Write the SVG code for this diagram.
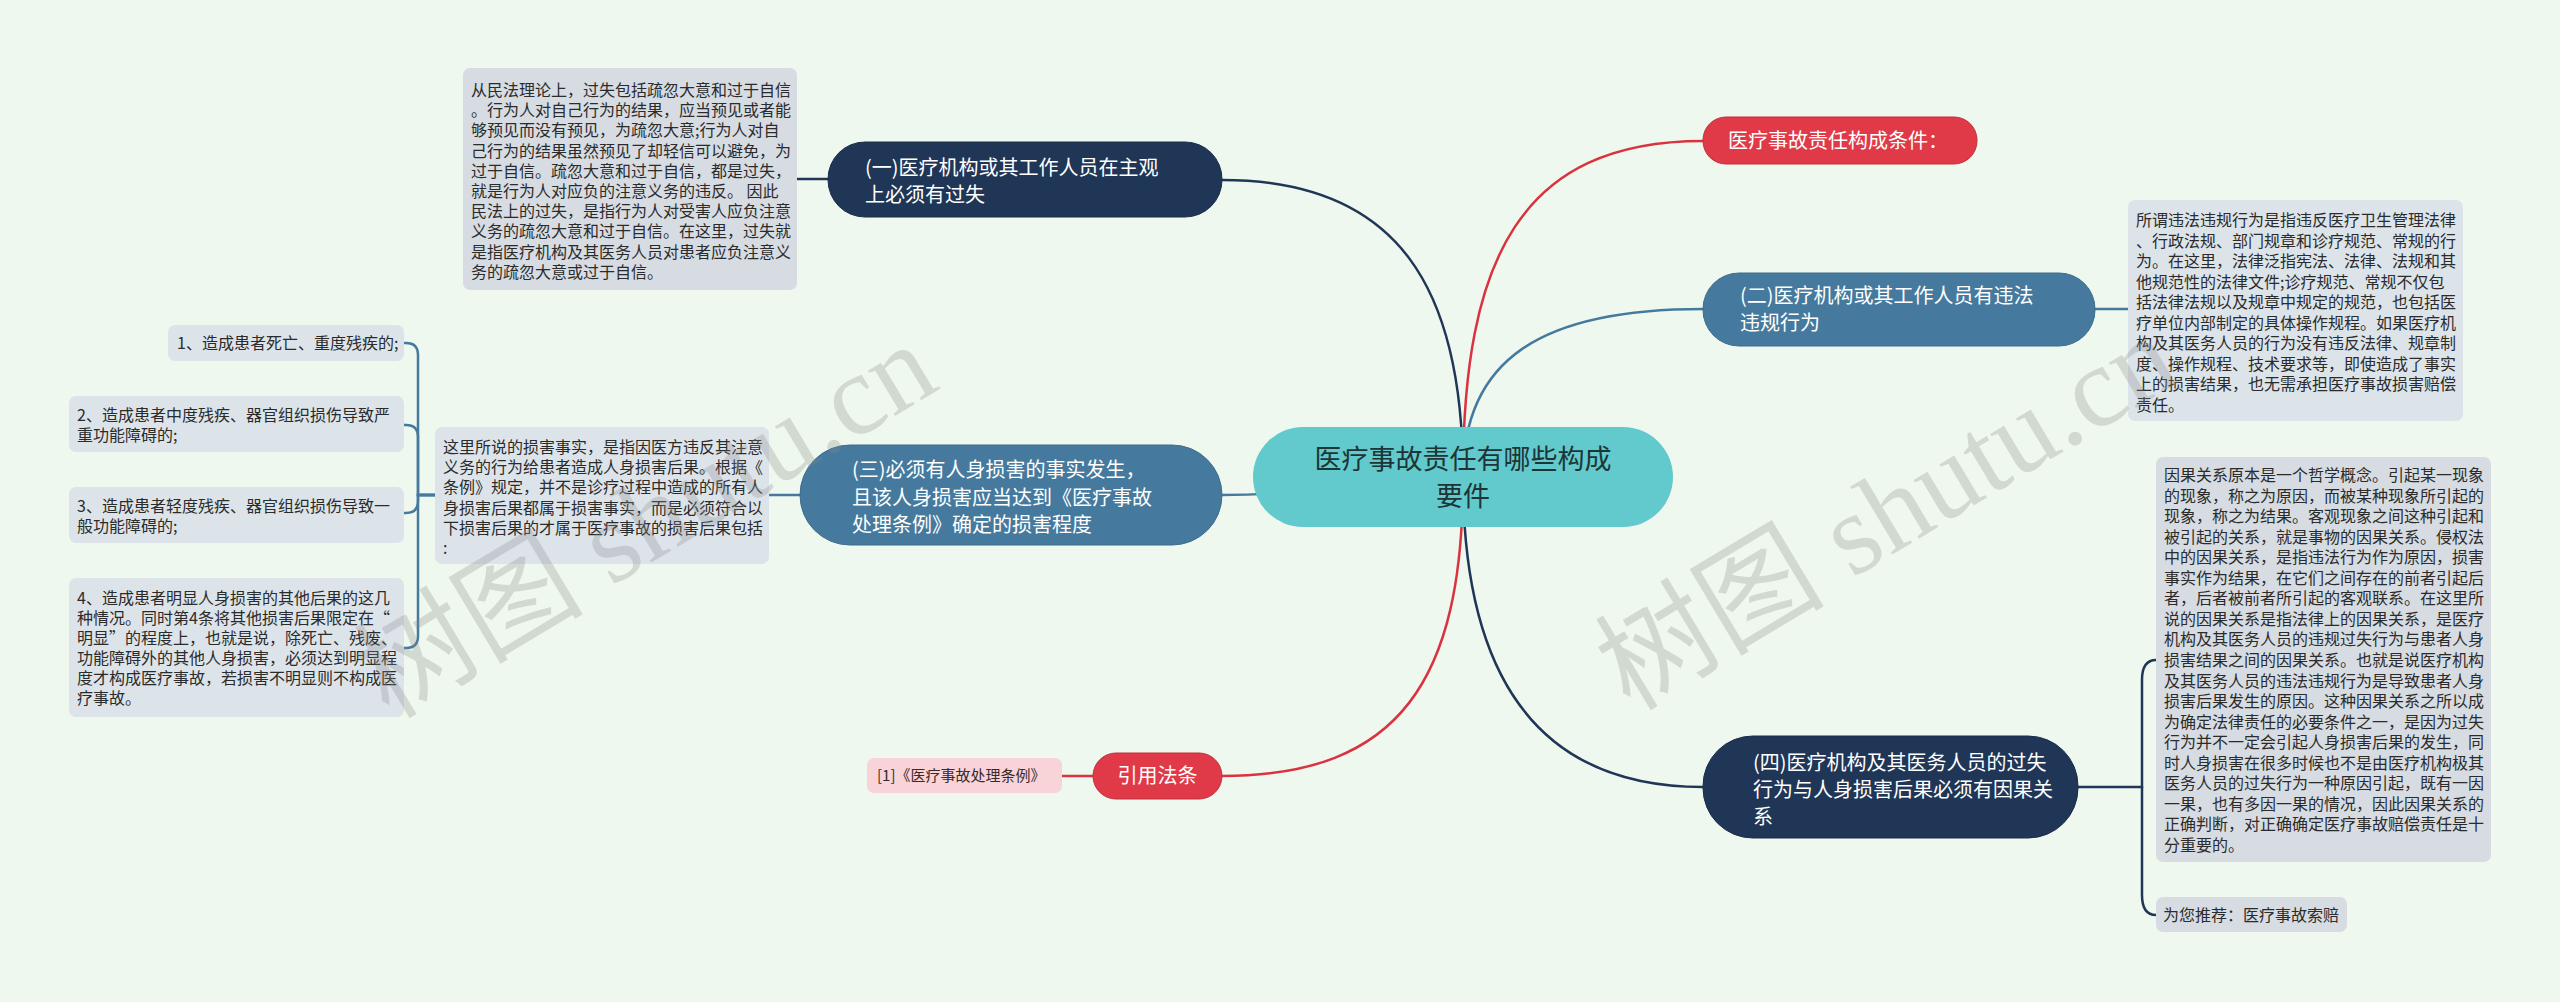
<svg xmlns="http://www.w3.org/2000/svg" width="2560" height="1002" viewBox="0 0 2560 1002">
<style>
.bg{fill:#EFF8EE}
.t{font-family:"Noto Sans CJK SC","Noto Sans",sans-serif}
.box{fill:#D6DCE2}
.boxb{fill:#DCE4EA}
.bt{font-size:16px;fill:#2b2b2b}
.nt{font-size:20px;fill:#ffffff}
.navy{fill:#1F3657;stroke:#1a2e4a;stroke-width:1}
.steel{fill:#457A9E;stroke:#3d6d8d;stroke-width:1}
.red{fill:#E03A48;stroke:#c22e3b;stroke-width:1}
.ln{fill:none;stroke-width:2.5;stroke-linecap:round}
.sn{stroke:#1F3657}
.ss{stroke:#457A9E}
.sr{stroke:#D9333F}
.wm{font-family:"Liberation Serif","Noto Sans CJK SC",serif;font-size:115px;fill:#8a8a8a;fill-opacity:0.28}
</style>
<rect class="bg" x="0" y="0" width="2560" height="1002"/>
<g id="connectors">
<path class="ln sn" d="M1463 477 C1463 290,1400 180,1222 180"/>
<path class="ln sr" d="M1463 477 C1463 260,1520 141,1703 141"/>
<path class="ln ss" d="M1463 477 C1463 360,1540 309,1703 309"/>
<path class="ln ss" d="M1463 477 C1350 477,1330 495,1222 495"/>
<path class="ln sn" d="M1463 477 C1463 680,1540 787,1703 787"/>
<path class="ln sr" d="M1463 477 C1463 680,1400 776,1222 776"/>
<path class="ln sn" stroke-width="2" d="M797 179 H828"/>
<path class="ln ss" stroke-width="2" d="M2095 309 H2128"/>
<path class="ln ss" stroke-width="2" d="M769 495 H800"/>
<path class="ln sr" stroke-width="2" d="M1062 776 H1093"/>
<path class="ln ss" stroke-width="2" d="M435 495 H418 V355 Q418 343 406 343 H404"/>
<path class="ln ss" stroke-width="2" d="M435 495 H418 V437 Q418 425 406 425 H404"/>
<path class="ln ss" stroke-width="2" d="M435 495 H418 V501 Q418 513 406 513 H404"/>
<path class="ln ss" stroke-width="2" d="M435 495 H418 V636 Q418 648 406 648 H404"/>
<path class="ln sn" stroke-width="2" d="M2078 787 H2142 V680 Q2142 660 2156 660"/>
<path class="ln sn" stroke-width="2" d="M2142 787 V895 Q2142 915 2156 915"/>
</g>
<g id="root">
<rect x="1253" y="427" width="420" height="100" rx="50" fill="#62C9CD"/>
<text class="t" font-size="27" fill="#1d3535" text-anchor="middle"><tspan x="1463" y="469">医疗事故责任有哪些构成</tspan><tspan x="1463" y="506">要件</tspan></text>
</g>
<g id="n1">
<rect class="navy" x="828" y="142" width="394" height="75" rx="37"/>
<text class="t nt"><tspan x="865" y="175">(一)医疗机构或其工作人员在主观</tspan><tspan x="865" y="202">上必须有过失</tspan></text>
</g>
<g id="n1box">
<rect class="box" x="463" y="68" width="334" height="222" rx="7"/>
<text class="t bt"><tspan x="471" y="96">从民法理论上，过失包括疏忽大意和过于自信</tspan><tspan x="471" y="116.2">。行为人对自己行为的结果，应当预见或者能</tspan><tspan x="471" y="136.4">够预见而没有预见，为疏忽大意;行为人对自</tspan><tspan x="471" y="156.6">己行为的结果虽然预见了却轻信可以避免，为</tspan><tspan x="471" y="176.8">过于自信。疏忽大意和过于自信，都是过失，</tspan><tspan x="471" y="197">就是行为人对应负的注意义务的违反。 因此</tspan><tspan x="471" y="217.2">民法上的过失，是指行为人对受害人应负注意</tspan><tspan x="471" y="237.4">义务的疏忽大意和过于自信。在这里，过失就</tspan><tspan x="471" y="257.6">是指医疗机构及其医务人员对患者应负注意义</tspan><tspan x="471" y="277.8">务的疏忽大意或过于自信。</tspan></text>
</g>
<g id="cond">
<rect class="red" x="1703" y="117" width="274" height="47" rx="23"/>
<text class="t nt" x="1728" y="148">医疗事故责任构成条件：</text>
</g>
<g id="n2">
<rect class="steel" x="1703" y="273" width="392" height="73" rx="36"/>
<text class="t nt"><tspan x="1740" y="303">(二)医疗机构或其工作人员有违法</tspan><tspan x="1740" y="330">违规行为</tspan></text>
</g>
<g id="n2box">
<rect class="boxb" x="2128" y="200" width="335" height="221" rx="7"/>
<text class="t bt"><tspan x="2136" y="226">所谓违法违规行为是指违反医疗卫生管理法律</tspan><tspan x="2136" y="246.5">、行政法规、部门规章和诊疗规范、常规的行</tspan><tspan x="2136" y="267">为。在这里，法律泛指宪法、法律、法规和其</tspan><tspan x="2136" y="287.5">他规范性的法律文件;诊疗规范、常规不仅包</tspan><tspan x="2136" y="308">括法律法规以及规章中规定的规范，也包括医</tspan><tspan x="2136" y="328.5">疗单位内部制定的具体操作规程。如果医疗机</tspan><tspan x="2136" y="349">构及其医务人员的行为没有违反法律、规章制</tspan><tspan x="2136" y="369.5">度、操作规程、技术要求等，即使造成了事实</tspan><tspan x="2136" y="390">上的损害结果，也无需承担医疗事故损害赔偿</tspan><tspan x="2136" y="410.5">责任。</tspan></text>
</g>
<g id="n3">
<rect class="steel" x="800" y="445" width="422" height="100" rx="50"/>
<text class="t nt"><tspan x="852" y="477">(三)必须有人身损害的事实发生，</tspan><tspan x="852" y="505">且该人身损害应当达到《医疗事故</tspan><tspan x="852" y="532">处理条例》确定的损害程度</tspan></text>
</g>
<g id="n3box">
<rect class="boxb" x="435" y="427" width="334" height="137" rx="7"/>
<text class="t bt"><tspan x="443" y="453">这里所说的损害事实，是指因医方违反其注意</tspan><tspan x="443" y="473.2">义务的行为给患者造成人身损害后果。根据《</tspan><tspan x="443" y="493.4">条例》规定，并不是诊疗过程中造成的所有人</tspan><tspan x="443" y="513.6">身损害后果都属于损害事实，而是必须符合以</tspan><tspan x="443" y="533.8">下损害后果的才属于医疗事故的损害后果包括</tspan><tspan x="443" y="554">:</tspan></text>
</g>
<g id="item1">
<rect class="boxb" x="168" y="325" width="236" height="36" rx="7"/>
<text class="t bt" x="177" y="349">1、造成患者死亡、重度残疾的;</text>
</g>
<g id="item2">
<rect class="boxb" x="69" y="396" width="335" height="56" rx="7"/>
<text class="t bt"><tspan x="77" y="421">2、造成患者中度残疾、器官组织损伤导致严</tspan><tspan x="77" y="441">重功能障碍的;</tspan></text>
</g>
<g id="item3">
<rect class="boxb" x="69" y="487" width="335" height="56" rx="7"/>
<text class="t bt"><tspan x="77" y="512">3、造成患者轻度残疾、器官组织损伤导致一</tspan><tspan x="77" y="532">般功能障碍的;</tspan></text>
</g>
<g id="item4">
<rect class="boxb" x="69" y="578" width="335" height="139" rx="7"/>
<text class="t bt"><tspan x="77" y="604">4、造成患者明显人身损害的其他后果的这几</tspan><tspan x="77" y="624">种情况。同时第4条将其他损害后果限定在“</tspan><tspan x="77" y="644">明显”的程度上，也就是说，除死亡、残废、</tspan><tspan x="77" y="664">功能障碍外的其他人身损害，必须达到明显程</tspan><tspan x="77" y="684">度才构成医疗事故，若损害不明显则不构成医</tspan><tspan x="77" y="704">疗事故。</tspan></text>
</g>
<g id="n4">
<rect class="navy" x="1703" y="736" width="375" height="102" rx="50"/>
<text class="t nt"><tspan x="1753" y="770">(四)医疗机构及其医务人员的过失</tspan><tspan x="1753" y="797">行为与人身损害后果必须有因果关</tspan><tspan x="1753" y="824">系</tspan></text>
</g>
<g id="n4box">
<rect class="box" x="2156" y="457" width="335" height="405" rx="7"/>
<text class="t bt"><tspan x="2164" y="481">因果关系原本是一个哲学概念。引起某一现象</tspan><tspan x="2164" y="501.55">的现象，称之为原因，而被某种现象所引起的</tspan><tspan x="2164" y="522.1">现象，称之为结果。客观现象之间这种引起和</tspan><tspan x="2164" y="542.65">被引起的关系，就是事物的因果关系。侵权法</tspan><tspan x="2164" y="563.2">中的因果关系，是指违法行为作为原因，损害</tspan><tspan x="2164" y="583.75">事实作为结果，在它们之间存在的前者引起后</tspan><tspan x="2164" y="604.3">者，后者被前者所引起的客观联系。在这里所</tspan><tspan x="2164" y="624.85">说的因果关系是指法律上的因果关系，是医疗</tspan><tspan x="2164" y="645.4">机构及其医务人员的违规过失行为与患者人身</tspan><tspan x="2164" y="665.95">损害结果之间的因果关系。也就是说医疗机构</tspan><tspan x="2164" y="686.5">及其医务人员的违法违规行为是导致患者人身</tspan><tspan x="2164" y="707.05">损害后果发生的原因。这种因果关系之所以成</tspan><tspan x="2164" y="727.6">为确定法律责任的必要条件之一，是因为过失</tspan><tspan x="2164" y="748.15">行为并不一定会引起人身损害后果的发生，同</tspan><tspan x="2164" y="768.7">时人身损害在很多时候也不是由医疗机构极其</tspan><tspan x="2164" y="789.25">医务人员的过失行为一种原因引起，既有一因</tspan><tspan x="2164" y="809.8">一果，也有多因一果的情况，因此因果关系的</tspan><tspan x="2164" y="830.35">正确判断，对正确确定医疗事故赔偿责任是十</tspan><tspan x="2164" y="850.9">分重要的。</tspan></text>
</g>
<g id="rec">
<rect class="box" x="2156" y="897" width="191" height="35" rx="7"/>
<text class="t bt" x="2163" y="921">为您推荐：医疗事故索赔</text>
</g>
<g id="cite">
<rect class="red" x="1093" y="753" width="129" height="46" rx="23"/>
<text class="t nt" x="1157.5" y="783" text-anchor="middle">引用法条</text>
</g>
<g id="citebox">
<rect x="867" y="758" width="195" height="35" rx="7" fill="#F8D3D8"/>
<text class="t" font-size="15" fill="#3a2a2a" x="877" y="781">[1]《医疗事故处理条例》</text>
</g>
<g id="watermark">
<text class="wm" x="389" y="720" transform="rotate(-31 389 720)">树图 shutu.cn</text>
<text class="wm" x="1630" y="712" transform="rotate(-31 1630 712)">树图 shutu.cn</text>
</g>
</svg>
